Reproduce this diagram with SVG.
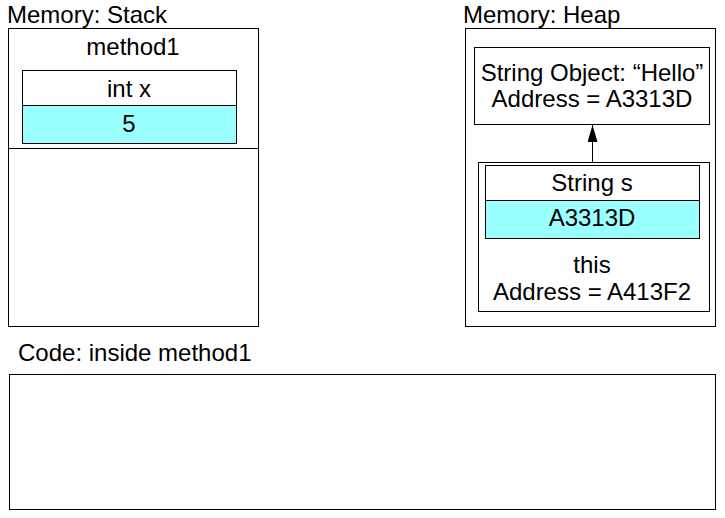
<svg xmlns="http://www.w3.org/2000/svg" width="725" height="518" viewBox="0 0 725 518">
<defs>
<style>
rect{fill:#ffffff;stroke:#000000;stroke-width:1}
rect.val{fill:#99ffff}
line.div{stroke:#000000;stroke-width:1}
text{font-family:"Liberation Sans",Arial,sans-serif;font-size:24px;fill:#000000}
text.c{text-anchor:middle}
</style>
<marker id="ah" markerWidth="17" markerHeight="10" refX="17" refY="5" orient="auto" markerUnits="userSpaceOnUse" viewBox="0 0 17 10">
<path d="M0,0 L17,5 L0,10 Z" fill="#000000"/>
</marker>
</defs>
<rect width="725" height="518" style="fill:#ffffff;stroke:none"/>
<g id="stack">
<text x="7" y="23">Memory: Stack</text>
<rect x="8.5" y="28.5" width="250" height="298"/>
<line class="div" x1="8.5" y1="148.5" x2="258.5" y2="148.5"/>
<text class="c" x="133" y="55">method1</text>
</g>
<g id="intx">
<rect x="22.5" y="70.5" width="214" height="35"/>
<rect class="val" x="22.5" y="105.5" width="214" height="38"/>
<text class="c" x="129" y="97">int x</text>
<text class="c" x="129" y="132">5</text>
</g>
<g id="heap">
<text x="463" y="23">Memory: Heap</text>
<rect x="465.5" y="28.5" width="250" height="298"/>
</g>
<g id="stringobj">
<rect x="474.5" y="47.5" width="235" height="77"/>
<text class="c" x="592" y="81">String Object: “Hello”</text>
<text class="c" x="592" y="107">Address = A3313D</text>
</g>
<g id="this">
<rect x="478.5" y="162.5" width="231" height="149"/>
<text class="c" x="592" y="273">this</text>
<text class="c" x="592" y="300">Address = A413F2</text>
</g>
<g id="strings">
<rect x="485.5" y="165.5" width="214" height="35"/>
<rect class="val" x="485.5" y="200.5" width="214" height="38"/>
<text class="c" x="592" y="191">String s</text>
<text class="c" x="592" y="226">A3313D</text>
</g>
<g id="code">
<text x="18" y="361">Code: inside method1</text>
<rect x="9.5" y="374.5" width="706" height="135"/>
</g>
<g id="connectors">
<line x1="592.5" y1="162.5" x2="592.5" y2="125" stroke="#000000" stroke-width="1" marker-end="url(#ah)"/>
</g>
</svg>
